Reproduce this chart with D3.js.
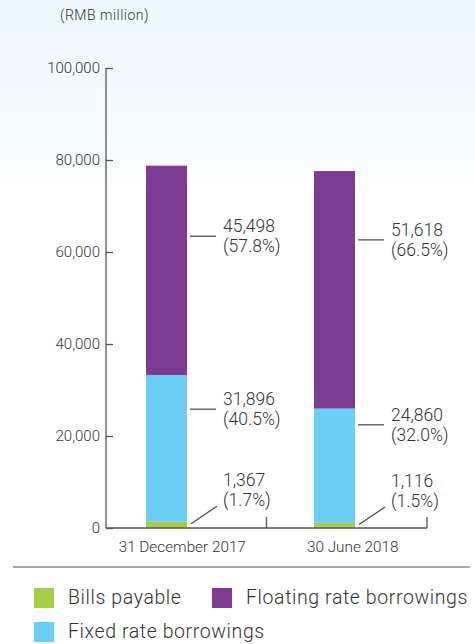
<!DOCTYPE html>
<html>
<head>
<meta charset="utf-8">
<script src="https://cdn.jsdelivr.net/npm/d3@7"></script>
<style>
  html, body { margin: 0; padding: 0; background: #fff; }
  svg { display: block; }
  text { font-family: Roboto, "Open Sans", sans-serif; fill: #333; font-weight: 300; }
</style>
</head>
<body>
<svg id="chart" width="475" height="644"></svg>
<script>
// ---- data ----
const categories = ["31 December 2017", "30 June 2018"];
const seriesNames = ["Bills payable", "Fixed rate borrowings", "Floating rate borrowings"];
const billsPayable = [1367, 1116];
const fixedRate = [31896, 24860];
const floatingRate = [45498, 51618];
const billsPct = ["1.7%", "1.5%"];
const fixedPct = ["40.5%", "32.0%"];
const floatingPct = ["57.8%", "66.5%"];
const yTickValues = [0, 20000, 40000, 60000, 80000, 100000];
const unitLabel = "(RMB million)";

// label anchor levels (value units) for the first text line of each annotation
const billsLabelLevel = [9100, 8900];
const fixedLabelLevel = [26700, 23300];
const floatingLabelLevel = [64300, 63500];

const colors = { "Bills payable": "#A6CE48", "Fixed rate borrowings": "#6BCFF5", "Floating rate borrowings": "#7D3C94" };

const svg = d3.select("#chart");

// background wash
const defs = svg.append("defs");
const grad = defs.append("linearGradient").attr("id", "bg").attr("x1", 0).attr("y1", 0).attr("x2", 0).attr("y2", 1);
grad.append("stop").attr("offset", "0%").attr("stop-color", "#EDF7FC");
grad.append("stop").attr("offset", "100%").attr("stop-color", "#F8FCFE");
svg.append("rect").attr("x", 0).attr("y", 0).attr("width", 475).attr("height", 163).attr("fill", "url(#bg)");
svg.append("rect").attr("x", 0).attr("y", 163).attr("width", 475).attr("height", 21).attr("fill", "#FBFCFC");

// scales
const y = d3.scaleLinear().domain([0, 100000]).range([528, 68]);
const xAxisScale = d3.scaleBand().domain(categories).range([106, 427]);
const xBar = d3.scaleBand().domain(categories).range([146, 355]).paddingInner(0.756);

// stacked data
const table = categories.map((c, i) => ({
  cat: c,
  "Bills payable": billsPayable[i],
  "Fixed rate borrowings": fixedRate[i],
  "Floating rate borrowings": floatingRate[i]
}));
const stack = d3.stack().keys(seriesNames)(table);

svg.append("g").selectAll("g").data(stack).join("g")
  .attr("fill", d => colors[d.key])
  .selectAll("rect").data(d => d).join("rect")
  .attr("x", d => xBar(d.data.cat))
  .attr("width", xBar.bandwidth())
  .attr("y", d => y(d[1]))
  .attr("height", d => y(d[0]) - y(d[1]));

// y axis
const yAxis = svg.append("g").attr("transform", "translate(106,0)")
  .call(d3.axisRight(y).tickValues(yTickValues).tickSize(7).tickFormat(""));
yAxis.select(".domain").attr("d", `M0,${y(100000)}V${y(0)}`);
yAxis.selectAll("line, path").attr("stroke", "#555").attr("stroke-width", 1.3);
svg.append("g").selectAll("text").data(yTickValues).join("text")
  .attr("x", 100).attr("y", d => y(d)).attr("dy", "0.36em")
  .attr("text-anchor", "end").attr("font-size", 15)
  .text(d => d3.format(",")(d));

// x axis
const xAxis = svg.append("g").attr("transform", `translate(0,${y(0)})`)
  .call(d3.axisTop(xAxisScale).tickSize(0).tickFormat(""));
xAxis.select(".domain").attr("d", `M106,0H${xAxisScale.range()[1]}`).attr("stroke", "#555").attr("stroke-width", 1.3);
svg.append("g").selectAll("line").data(categories).join("line")
  .attr("x1", d => xAxisScale(d) + xAxisScale.bandwidth()).attr("x2", d => xAxisScale(d) + xAxisScale.bandwidth())
  .attr("y1", y(0)).attr("y2", y(0) - 11)
  .attr("stroke", "#555").attr("stroke-width", 1.3);
svg.append("g").selectAll("text").data(categories).join("text")
  .attr("x", (d, i) => xAxisScale(d) + xAxisScale.bandwidth() / 2 + (i === 0 ? -4 : 6))
  .attr("y", 552).attr("text-anchor", "middle").attr("font-size", 15.3)
  .text(d => d);

// unit
svg.append("text").attr("x", 60).attr("y", 20).attr("font-size", 14).attr("letter-spacing", 0.5).text(unitLabel);

// annotations
const ann = [];
categories.forEach((c, i) => {
  ann.push({ cat: c, level: floatingLabelLevel[i], v: floatingRate[i], pct: floatingPct[i], type: "flat" });
  ann.push({ cat: c, level: fixedLabelLevel[i], v: fixedRate[i], pct: fixedPct[i], type: "flat" });
  ann.push({ cat: c, level: billsLabelLevel[i], v: billsPayable[i], pct: billsPct[i], type: "diag", base: billsPayable[i] / 2 });
});
const ag = svg.append("g");
ann.forEach(a => {
  const bx = xBar(a.cat) + xBar.bandwidth();
  const ty = y(a.level);
  if (a.type === "flat") {
    ag.append("line").attr("x1", bx + 3).attr("x2", bx + 29).attr("y1", ty + 4).attr("y2", ty + 4)
      .attr("stroke", "#444").attr("stroke-width", 1.2);
  } else {
    ag.append("line").attr("x1", bx + 4).attr("x2", bx + 30).attr("y1", y(a.base) - 1).attr("y2", ty + 20)
      .attr("stroke", "#444").attr("stroke-width", 1.2);
  }
  const t = ag.append("text").attr("x", bx + 36).attr("y", ty).attr("font-size", 17.5);
  t.append("tspan").attr("x", bx + 36).text(d3.format(",")(a.v));
  t.append("tspan").attr("x", bx + 36).attr("dy", 20).text("(" + a.pct + ")");
});

// legend
svg.append("line").attr("x1", 13).attr("x2", 470).attr("y1", 567).attr("y2", 567).attr("stroke", "#555").attr("stroke-width", 1.2);
const legendItems = [
  { name: seriesNames[0], x: 34, y: 588 },
  { name: seriesNames[2], x: 212, y: 588 },
  { name: seriesNames[1], x: 34, y: 622 }
];
const lg = svg.append("g").selectAll("g").data(legendItems).join("g")
  .attr("transform", d => `translate(${d.x},${d.y})`);
lg.append("rect").attr("width", 20).attr("height", 20).attr("fill", d => colors[d.name]);
lg.append("text").attr("x", 34).attr("y", 16).attr("font-size", 19.5).attr("letter-spacing", 0.6).text(d => d.name);
</script>
</body>
</html>
